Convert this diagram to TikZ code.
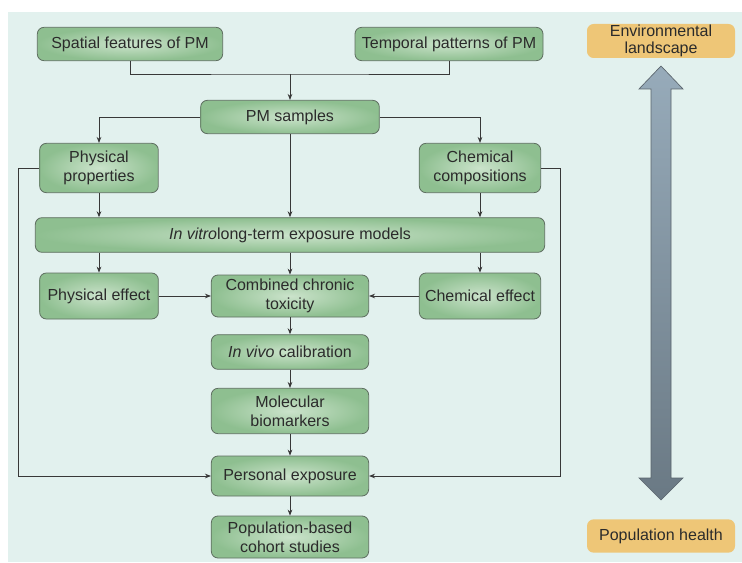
\documentclass[tikz,border=0pt]{standalone}
\usepackage{fontspec}
\setmainfont{Liberation Sans}
\usetikzlibrary{positioning}
\usetikzlibrary{arrows.meta}
\usepackage{xcolor}
\definecolor{bgmint}{HTML}{E2F1EE}
\definecolor{boxedge}{HTML}{5E6E60}
\definecolor{boxin}{HTML}{CBE3CB}
\definecolor{boxout}{HTML}{8EBF90}
\definecolor{tagfill}{HTML}{EEC677}
\definecolor{linegray}{HTML}{383838}
\definecolor{txt}{HTML}{2B2B2B}
\definecolor{scaletop}{HTML}{97ABBA}
\definecolor{scalemid}{HTML}{D9E3EA}
\definecolor{scalebot}{HTML}{6A7984}
\definecolor{scaleedge}{HTML}{5A646C}

\begin{document}
\begin{tikzpicture}[x=0.75pt, y=-0.75pt,
    box/.style={draw=boxedge, line width=0.6pt, rounded corners=5pt, shading=radial,
        inner color=boxin, outer color=boxout, align=center, inner sep=0pt,
        text=txt, font=\fontsize{12}{14.5}\selectfont},
    tag/.style={fill=tagfill, rounded corners=5pt, align=center, inner sep=0pt,
        text=txt, font=\fontsize{12}{13}\selectfont, minimum width=111pt},
    link/.style={-{Stealth[length=4.5pt,width=3.5pt]}, linegray, line width=0.6pt},
    plain/.style={linegray, line width=0.6pt}]
            \useasboundingbox (0,0) rectangle (742,563);
            \fill[bgmint] (8,12) rectangle (742,562);

            % top row
            \node[box, minimum width=139pt, minimum height=25pt] (spatial) at (130,44) {Spatial features of PM};
            \node[box, minimum width=141pt, minimum height=25pt] (temporal) at (449,44) {Temporal patterns of PM};
            \node[box, minimum width=134pt, minimum height=25pt] (samples) at (290,117) {PM samples};
            \node[box, minimum width=89pt, minimum height=37pt] (physprop) at (99,168) {Physical\\properties};
            \node[box, minimum width=91pt, minimum height=37pt] (chemcomp) at (480,168) {Chemical\\compositions};
            \node[box, minimum width=382pt, minimum height=26pt] (invitro) at (290,235) {\textit{In vitro}long-term exposure models};

            % effects
            \node[box, minimum width=89pt, minimum height=34.5pt] (physeffect) at (99,296) {Physical effect};
            \node[box, minimum width=118pt, minimum height=31.5pt] (combined) at (290,296) {Combined chronic\\toxicity};
            \node[box, minimum width=91pt, minimum height=34.5pt] (chemeffect) at (480,296) {Chemical effect};

            % lower chain
            \node[box, minimum width=118pt, minimum height=26pt] (invivo) at (290,352) {\textit{In vivo} calibration};
            \node[box, minimum width=118pt, minimum height=34pt] (biomarkers) at (290,411) {Molecular\\biomarkers};
            \node[box, minimum width=118pt, minimum height=30pt] (exposure) at (290,476) {Personal exposure};
            \node[box, minimum width=118pt, minimum height=31.5pt] (cohort) at (290,537) {Population-based\\cohort studies};

            % right side scale
            \node[tag, minimum height=25.5pt] (landscape) at (661,41) {Environmental\\landscape};
            \node[tag, minimum height=25pt] (health) at (661,536) {Population health};
            \draw[draw=scaleedge, line width=0.5pt, top color=scaletop, middle color=scalemid, bottom color=scalebot]
                (651,89) -- (639,89) -- (661,66) -- (683,89) -- (671,89) -- (671,478)
                -- (683,478) -- (661,500) -- (639,478) -- (651,478) -- cycle;

            \coordinate (join) at (290,74);
            \coordinate (leftrail) at (18,168);
            \coordinate (rightrail) at (560,168);

            \draw[plain] (spatial.south) |- (join) -| (temporal.south);
            \draw[link] (join) -- (samples);
            \draw[link] (samples.west) -| (physprop);
            \draw[link] (samples.east) -| (chemcomp);
            \draw[link] (samples) -- (invitro);
            \draw[link] (physprop) -- (physprop |- invitro.north);
            \draw[link] (chemcomp) -- (chemcomp |- invitro.north);
            \draw[link] (invitro.south -| physeffect) -- (physeffect);
            \draw[link] (invitro) -- (combined);
            \draw[link] (invitro.south -| chemeffect) -- (chemeffect);
            \draw[link] (physeffect) -- (combined);
            \draw[link] (chemeffect) -- (combined);
            \draw[link] (combined) -- (invivo);
            \draw[link] (invivo) -- (biomarkers);
            \draw[link] (biomarkers) -- (exposure);
            \draw[link] (exposure) -- (cohort);
            \draw[link] (physprop.west) -- (leftrail) |- (exposure);
            \draw[link] (chemcomp.east) -- (rightrail) |- (exposure);
        \end{tikzpicture}
\end{document}
